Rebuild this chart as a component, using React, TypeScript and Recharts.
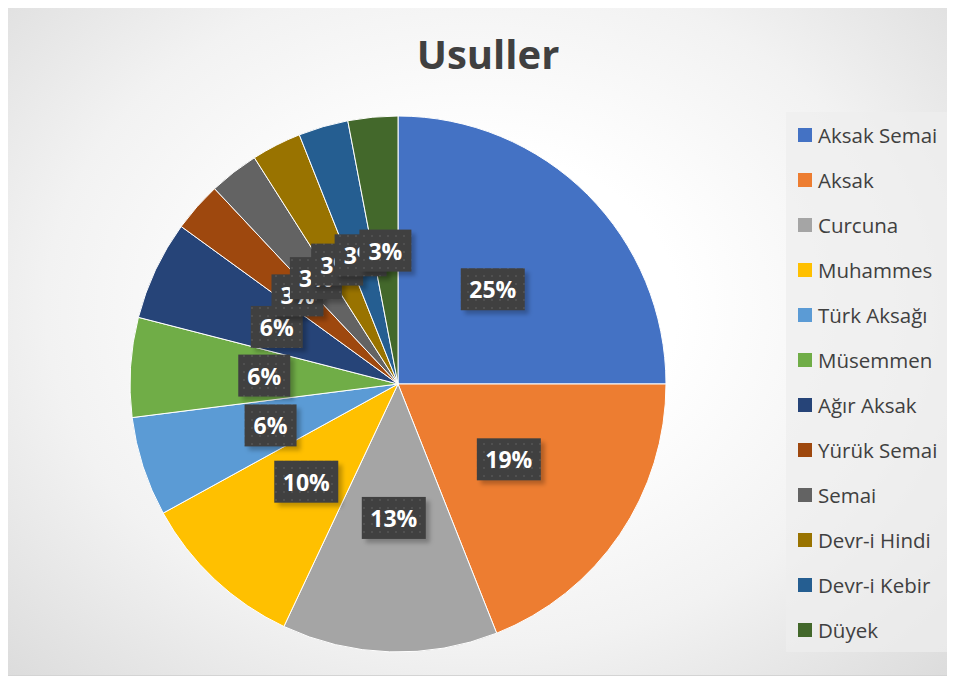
import { PieChart, Pie, Cell, Legend } from 'recharts';

const usulNames = [
  'Aksak Semai', 'Aksak', 'Curcuna', 'Muhammes', 'Türk Aksağı', 'Müsemmen',
  'Ağır Aksak', 'Yürük Semai', 'Semai', 'Devr-i Hindi', 'Devr-i Kebir', 'Düyek',
];
const usulShares = [25, 19, 13, 10, 6, 6, 6, 3, 3, 3, 3, 3];
const sliceColors = [
  '#4472C4', '#ED7D31', '#A5A5A5', '#FFC000', '#5B9BD5', '#70AD47',
  '#264478', '#9E480E', '#636363', '#997300', '#255E91', '#43682B',
];

const data = usulNames.map((name, i) => ({ name, value: usulShares[i] }));

const RAD = Math.PI / 180;

const BoxLabel = (props: any) => {
  const { cx, cy, midAngle, outerRadius, value } = props;
  const r = outerRadius * 0.5;
  const x = cx + r * Math.cos(-midAngle * RAD);
  const y = cy + r * Math.sin(-midAngle * RAD);
  const text = `${value}%`;
  const w = 28 + 12 * text.length;
  const h = 42;
  return (
    <g>
      <rect x={x - w / 2 + 4} y={y - h / 2 + 4} width={w} height={h} fill="rgba(0,0,0,0.25)" filter="url(#lblBlur)" />
      <rect x={x - w / 2} y={y - h / 2} width={w} height={h} fill="url(#dots)" />
      <text
        x={x}
        y={y}
        textAnchor="middle"
        dominantBaseline="central"
        fill="#fff"
        fontSize={23}
        fontWeight={700}
        fontFamily="'Open Sans', sans-serif"
      >
        {text}
      </text>
    </g>
  );
};

const LegendList = () => (
  <div style={{ background: 'rgba(238,238,238,0.7)', padding: '0 0 0 12px', width: 164, height: 540, boxSizing: 'border-box' }}>
    {data.map((d, i) => (
      <div key={d.name} style={{ display: 'flex', alignItems: 'center', height: 45, fontFamily: "'Open Sans', sans-serif", fontSize: 20.5, color: '#404040', whiteSpace: 'nowrap' }}>
        <span style={{ width: 14, height: 14, background: sliceColors[i], marginRight: 6, flexShrink: 0 }} />
        {d.name}
      </div>
    ))}
  </div>
);

export default function App() {
  return (
    <div
      style={{
        position: 'relative',
        width: 940,
        height: 667,
        marginLeft: -1,
        marginTop: -1,
        border: '1px solid #d4d4d4',
        background: 'radial-gradient(ellipse at 50% 45%, #ffffff 30%, #f2f2f2 65%, #dcdcdc 100%)',
      }}
    >
      <div
        style={{
          position: 'absolute',
          top: 18,
          left: 0,
          width: 940,
          textAlign: 'center',
          paddingLeft: 20,
          boxSizing: 'border-box',
          fontFamily: "'Open Sans', sans-serif",
          fontWeight: 700,
          fontSize: 40,
          color: '#404040',
        }}
      >
        Usuller
      </div>
      <PieChart width={940} height={667} style={{ position: 'absolute', top: 0, left: 0 }}>
        <defs>
          <pattern id="dots" width="8" height="8" patternUnits="userSpaceOnUse">
            <rect width="8" height="8" fill="#404040" />
            <circle cx="4" cy="4" r="1" fill="#555555" />
          </pattern>
          <filter id="lblBlur" x="-20%" y="-20%" width="140%" height="140%">
            <feGaussianBlur stdDeviation="2" />
          </filter>
        </defs>
        <Pie
          data={data}
          dataKey="value"
          nameKey="name"
          cx={385}
          cy={371}
          outerRadius={268}
          startAngle={90}
          endAngle={-270}
          stroke="#ffffff"
          strokeWidth={1}
          label={BoxLabel}
          labelLine={false}
          isAnimationActive={false}
        >
          {data.map((d, i) => (
            <Cell key={d.name} fill={sliceColors[i]} />
          ))}
        </Pie>
        <Legend
          content={<LegendList />}
          wrapperStyle={{ position: 'absolute', left: 778, top: 104, width: 164, height: 540 }}
        />
      </PieChart>
    </div>
  );
}
